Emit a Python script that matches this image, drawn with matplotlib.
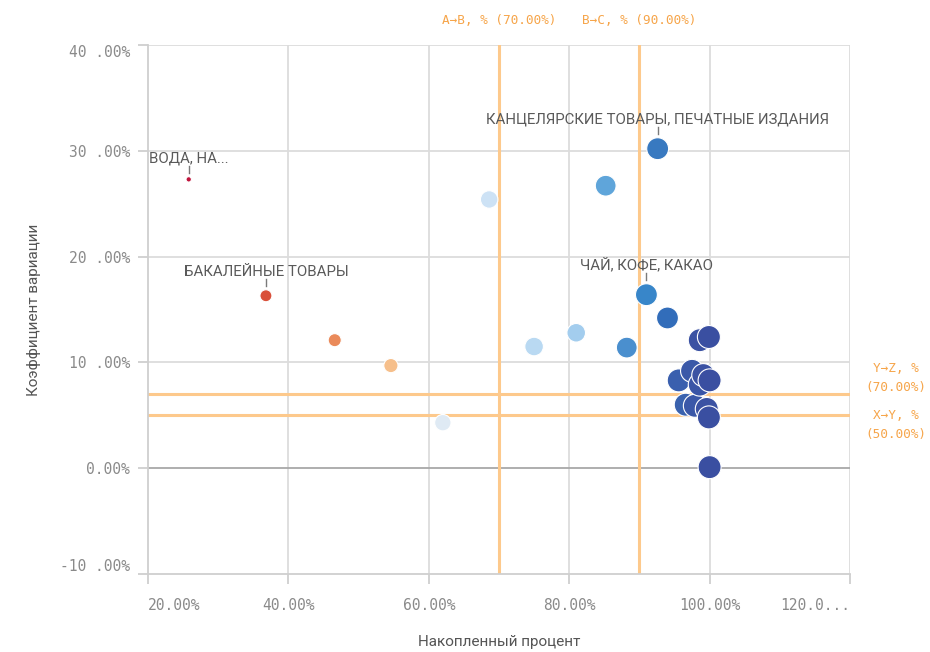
import matplotlib.pyplot as plt
import numpy as np

# cumulative share (%) vs coefficient of variation (%) per product group
cum_pct = [25.8, 36.8, 46.6, 54.6, 62.0, 68.6, 75.0, 81.0, 85.2, 88.2, 92.6, 91.0, 94.0,
           95.6, 96.6, 97.5, 97.9, 98.6, 98.6, 99.1, 99.6, 99.9, 99.9, 100.0, 100.0]
cov_pct = [27.3, 16.3, 12.1, 9.7, 4.3, 25.4, 11.5, 12.8, 26.7, 11.4, 30.2, 16.4, 14.2,
           8.3, 6.0, 9.2, 5.9, 12.1, 7.9, 8.8, 5.6, 12.4, 4.8, 8.3, 0.1]
weight = [1, 4, 4.5, 5, 6, 6.5, 7, 7, 8, 8, 8.5, 8.5, 8.5,
          9, 9, 9, 9, 9, 9, 9, 9, 9, 9, 9, 9]
colors = ["#c0143c", "#d9503a", "#ea8a5a", "#f6bf8b", "#dfeaf4", "#cde2f5", "#b9d9f2",
          "#a3cdee", "#5fa5da", "#4a8fce", "#3879c0", "#3886c9", "#326dba",
          "#3a5fae", "#3a62ae", "#3b59a8", "#3b58a8", "#3b52a3", "#3a55a6", "#3b52a3",
          "#3b52a3", "#3a4fa1", "#3a4fa1", "#3a4fa1", "#3a4fa1"]

labels = {0: "ВОДА, НА...", 1: "БАКАЛЕЙНЫЕ ТОВАРЫ",
          10: "КАНЦЕЛЯРСКИЕ ТОВАРЫ, ПЕЧАТНЫЕ ИЗДАНИЯ", 11: "ЧАЙ, КОФЕ, КАКАО"}

# ABC / XYZ thresholds
abc_lines = [70, 90]
abc_text = ["A→B, % (70.00%)", "B→C, % (90.00%)"]
xyz_lines = [7, 5]
xyz_text = ["Y→Z, %\n(70.00%)", "X→Y, %\n(50.00%)"]
xyz_shift = [1.5, -0.9]

x_ticks = [20, 40, 60, 80, 100, 120]
x_ticklabels = ["20.00%", "40.00%", "60.00%", "80.00%", "100.00%", "120.0..."]
y_ticks = [-10, 0, 10, 20, 30, 40]
y_ticklabels = ["-10 .00%", "0.00%", "10 .00%", "20 .00%", "30 .00%", "40 .00%"]

ORANGE_LINE = "#fdc98c"
ORANGE_TEXT = "#f6a54a"
GRID = "#dcdcdc"
TICK_TEXT = "#8a8a8a"
MONO = "DejaVu Sans Mono"

fig = plt.figure(figsize=(9.3, 6.52), dpi=100)
ax = fig.add_axes([148 / 930, 78 / 652, 702 / 930, 529 / 652])
ax.set_xlim(20, 120)
ax.set_ylim(-10, 40)

for x in x_ticks[1:]:
    ax.axvline(x, color=GRID, lw=1.3, zorder=0)
for y in y_ticks[1:]:
    ax.axhline(y, color="#a8a8a8" if y == 0 else GRID, lw=1.3, zorder=0)

for spine in ["top", "right"]:
    ax.spines[spine].set_visible(False)
for spine in ["left", "bottom"]:
    ax.spines[spine].set_color("#cfcfcf")
    ax.spines[spine].set_linewidth(1.3)

ax.set_xticks(x_ticks)
ax.set_yticks(y_ticks)
ax.set_xticklabels(x_ticklabels)
ax.set_yticklabels(y_ticklabels)
ax.tick_params(colors="#cfcfcf", length=7, width=1.3, labelcolor=TICK_TEXT,
               labelsize=10.5)
for t in ax.get_xticklabels() + ax.get_yticklabels():
    t.set_fontfamily(MONO)
xt = ax.get_xticklabels()
xt[0].set_horizontalalignment("left")
xt[-1].set_horizontalalignment("right")
yt = ax.get_yticklabels()
yt[0].set_verticalalignment("bottom")
yt[-1].set_verticalalignment("top")
ax.tick_params(axis="x", pad=10)
ax.tick_params(axis="y", pad=6)

for x, txt in zip(abc_lines, abc_text):
    ax.axvline(x, color=ORANGE_LINE, lw=2.2, zorder=1)
    ax.text(x, 1.0 + 18 / 529, txt, transform=ax.get_xaxis_transform(),
            ha="center", va="bottom", fontsize=9.2, family=MONO, color=ORANGE_TEXT)
for y, dy, txt in zip(xyz_lines, xyz_shift, xyz_text):
    ax.axhline(y, color=ORANGE_LINE, lw=2.2, zorder=1)
    ax.text(1.0 + 46 / 702, y + dy, txt, transform=ax.get_yaxis_transform(),
            ha="center", va="center", fontsize=9.2, family=MONO, color=ORANGE_TEXT,
            linespacing=1.6)

radius = np.array(weight) * 1.1 + 1.6
sizes = (2 * radius * 0.72) ** 2
ax.scatter(cum_pct, cov_pct, s=sizes, c=colors, edgecolors="white", linewidths=0.8,
           zorder=3)

# labels with a short leader line above the bubble
to_fig = fig.transFigure.inverted()
for i, txt in labels.items():
    r = radius[i]
    ax.annotate(txt, (cum_pct[i], cov_pct[i]), xytext=(0, r + 11),
                textcoords="offset pixels", ha="center", va="bottom", fontsize=10.8,
                family="Roboto", color="#5a5a5a", zorder=4)
    px, py = ax.transData.transform((cum_pct[i], cov_pct[i]))
    fx0, fy0 = to_fig.transform((px, py + r + 4))
    fx1, fy1 = to_fig.transform((px, py + r + 11))
    fig.add_artist(plt.Line2D([fx0, fx1], [fy0, fy1], color="#7a7a7a", lw=1))

ax.set_xlabel("Накопленный процент", fontsize=11, color="#555555", family="Roboto",
              labelpad=16)
ax.set_ylabel("Коэффициент вариации", fontsize=11, color="#555555", family="Roboto",
              labelpad=14)

fig.savefig("out.png", dpi=100, facecolor="white")
